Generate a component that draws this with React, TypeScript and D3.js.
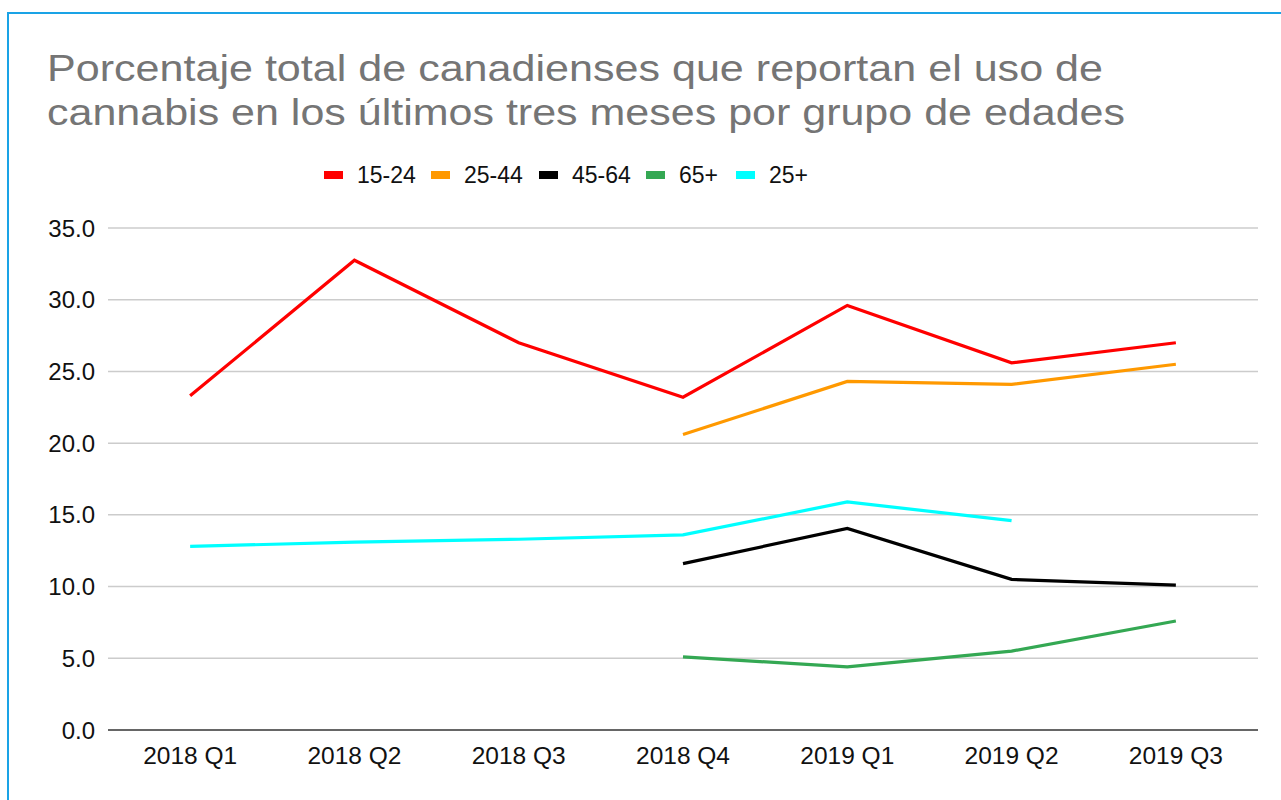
import * as d3 from "d3";

const quarters = ["2018 Q1", "2018 Q2", "2018 Q3", "2018 Q4", "2019 Q1", "2019 Q2", "2019 Q3"];
const yTicks = [0, 5, 10, 15, 20, 25, 30, 35];

const age15to24 = [23.3, 32.75, 27.0, 23.2, 29.6, 25.6, 27.0];
const age25to44 = [null, null, null, 20.6, 24.3, 24.1, 25.5];
const age45to64 = [null, null, null, 11.6, 14.05, 10.5, 10.1];
const age65plus = [null, null, null, 5.1, 4.4, 5.5, 7.6];
const age25plus = [12.8, 13.1, 13.3, 13.6, 15.9, 14.6, null];

const seriesNames = ["15-24", "25-44", "45-64", "65+", "25+"];
const seriesColors = ["#ff0000", "#ff9900", "#000000", "#34a853", "#00ffff"];
const seriesValues = [age15to24, age25to44, age45to64, age65plus, age25plus];

const title = [
  "Porcentaje total de canadienses que reportan el uso de",
  "cannabis en los últimos tres meses por grupo de edades",
];
// the title glyphs are drawn wider than plain Arial, so stretch each line
const titleWidths = [1056, 1078];

const W = 1281;
const H = 800;

export default function App() {
  const x = d3.scalePoint<string>().domain(quarters).range([108, 1258]).padding(0.5);
  const y = d3.scaleLinear().domain([0, 35]).range([730, 228]);

  const line = d3
    .line<number | null>()
    .defined((d) => d != null)
    .x((_, i) => x(quarters[i])!)
    .y((d) => y(d as number));

  // legend positions (swatch + label), laid out left to right
  const legendX = [324, 431, 539, 646, 736];

  return (
    <svg
      width={W}
      height={H}
      style={{ position: "absolute", left: 0, top: 0, background: "#fff" }}
      fontFamily="Arial, 'Liberation Sans', sans-serif"
    >
      <rect x={0} y={0} width={W} height={H} fill="#fff" />
      {/* frame, cropped on the right and bottom */}
      <rect x={8} y={13} width={W + 20} height={H + 20} fill="none" stroke="#1aa3e6" strokeWidth={2} />

      {title.map((t, i) => (
        <text
          key={i}
          x={47}
          y={81 + i * 44}
          fontSize={36}
          fill="#757575"
          textLength={titleWidths[i]}
          lengthAdjust="spacingAndGlyphs"
        >
          {t}
        </text>
      ))}

      {seriesNames.map((name, i) => (
        <g key={name} transform={`translate(${legendX[i]},175)`}>
          <rect x={0} y={-4} width={19} height={8} fill={seriesColors[i]} />
          <text
            x={33}
            y={0}
            dy="0.36em"
            fontSize={23}
            fontFamily="'Liberation Sans Narrow', 'Arial Narrow', Arial, sans-serif"
            fill="#111"
          >
            {name}
          </text>
        </g>
      ))}

      {yTicks.map((t) => (
        <g key={t}>
          {t > 0 && (
            <line x1={108} x2={1258} y1={y(t)} y2={y(t)} stroke="#cccccc" strokeWidth={1.5} />
          )}
          <text x={95} y={y(t)} dy="0.36em" textAnchor="end" fontSize={24} fill="#111">
            {t.toFixed(1)}
          </text>
        </g>
      ))}

      {seriesValues.map((vals, i) => (
        <path
          key={seriesNames[i]}
          d={line(vals) || ""}
          fill="none"
          stroke={seriesColors[i]}
          strokeWidth={3.2}
        />
      ))}

      <line x1={108} x2={1258} y1={y(0)} y2={y(0)} stroke="#333" strokeWidth={1.5} />

      {quarters.map((q) => (
        <text key={q} x={x(q)} y={764} textAnchor="middle" fontSize={24.5} fill="#111">
          {q}
        </text>
      ))}
    </svg>
  );
}
